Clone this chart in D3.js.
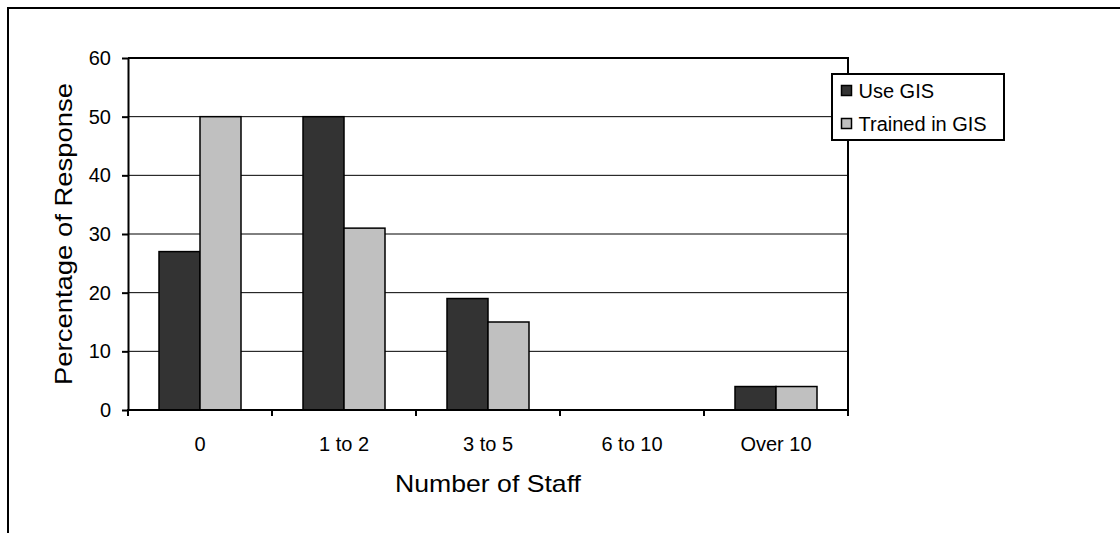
<!DOCTYPE html>
<html><head><meta charset="utf-8">
<script src="https://cdn.jsdelivr.net/npm/d3@7"></script>
<style>body{margin:0;background:#fff;} svg{display:block;font-family:"Liberation Sans",Arial,sans-serif;}</style>
</head><body>
<script>
const categories = ["0", "1 to 2", "3 to 5", "6 to 10", "Over 10"];
const seriesNames = ["Use GIS", "Trained in GIS"];
const useGIS = [27, 50, 19, 0, 4];
const trainedGIS = [50, 31, 15, 0, 4];
const yTicks = [0, 10, 20, 30, 40, 50, 60];
const colors = ["#333333", "#c0c0c0"];

const W = 1120, H = 533;
const FF = "Liberation Sans, Arial, sans-serif";
const svg = d3.select("body").append("svg").attr("width", W).attr("height", H);
// outer frame
svg.append("rect").attr("x", 8).attr("y", 8).attr("width", 1200).attr("height", 700)
  .attr("fill", "none").attr("stroke", "#000").attr("stroke-width", 2);

const L = 128, R = 848, T = 58, B = 410;
const x = d3.scaleBand().domain(categories).range([L, R]).paddingInner(0).paddingOuter(0);
const y = d3.scaleLinear().domain([0, 60]).range([B, T]);
const bw = 41;
const sub = d3.scaleBand().domain(seriesNames).range([0, bw * 2]);

// gridlines
svg.append("g").selectAll("line").data(yTicks.filter(v => v > 0 && v < 60)).join("line")
  .attr("x1", L).attr("x2", R).attr("y1", d => y(d)).attr("y2", d => y(d))
  .attr("stroke", "#000").attr("stroke-width", 1);

// bars
const data = categories.map((c, i) => ({c, vals: [useGIS[i], trainedGIS[i]]}));
const g = svg.append("g").selectAll("g").data(data).join("g")
  .attr("transform", d => `translate(${x(d.c) + (x.bandwidth() - bw * 2) / 2},0)`);
g.selectAll("rect").data(d => d.vals.map((v, k) => ({v, k})).filter(d => d.v > 0)).join("rect")
  .attr("x", d => sub(seriesNames[d.k])).attr("width", bw)
  .attr("y", d => y(d.v)).attr("height", d => y(0) - y(d.v))
  .attr("fill", d => colors[d.k]).attr("stroke", "#000").attr("stroke-width", 1.5);

// frame top & right
svg.append("line").attr("x1", L).attr("x2", R + 1).attr("y1", T).attr("y2", T).attr("stroke", "#000").attr("stroke-width", 2);
svg.append("line").attr("x1", R).attr("x2", R).attr("y1", T).attr("y2", B).attr("stroke", "#000").attr("stroke-width", 2);

// y axis
const ya = svg.append("g").attr("transform", `translate(${L},0)`)
  .call(d3.axisLeft(y).tickValues(yTicks).tickSize(6).tickPadding(11).tickSizeOuter(0));
ya.select(".domain").attr("stroke-width", 2);
ya.selectAll(".tick line").attr("stroke-width", 2);
ya.selectAll("text").attr("font-size", 20).attr("font-family", FF).attr("fill", "#000");

// x axis
const xTickScale = d3.scaleLinear().domain([0, categories.length]).range([L, R]);
const xa = svg.append("g").attr("transform", `translate(0,${B})`);
xa.append("line").attr("x1", L - 1).attr("x2", R + 1).attr("stroke", "#000").attr("stroke-width", 2);
xa.selectAll("line.tk").data(d3.range(categories.length + 1)).join("line").attr("class", "tk")
  .attr("x1", d => xTickScale(d)).attr("x2", d => xTickScale(d)).attr("y1", 0).attr("y2", 6)
  .attr("stroke", "#000").attr("stroke-width", 2);
xa.selectAll("text").data(categories).join("text")
  .attr("x", d => x(d) + x.bandwidth() / 2).attr("y", 41).attr("text-anchor", "middle")
  .attr("font-size", 20).text(d => d);

// titles
svg.append("text").attr("x", 488).attr("y", 492).attr("text-anchor", "middle").attr("font-size", 24)
  .attr("textLength", 186).attr("lengthAdjust", "spacingAndGlyphs").text("Number of Staff");
svg.append("text").attr("transform", `translate(72,234) rotate(-90)`).attr("text-anchor", "middle").attr("font-size", 24)
  .attr("textLength", 302).attr("lengthAdjust", "spacingAndGlyphs").text("Percentage of Response");

// legend
const lg = svg.append("g").attr("transform", "translate(832,74)");
lg.append("rect").attr("width", 172).attr("height", 66).attr("fill", "#fff").attr("stroke", "#000").attr("stroke-width", 2);
const items = lg.selectAll("g").data(seriesNames).join("g").attr("transform", (d, i) => `translate(9.5,${11.5 + i * 33})`);
items.append("rect").attr("width", 10).attr("height", 10).attr("fill", (d, i) => colors[i]).attr("stroke", "#000").attr("stroke-width", 1.5);
items.append("text").attr("x", 17).attr("y", 12.5).attr("font-size", 20).text(d => d);
</script>
</body></html>
